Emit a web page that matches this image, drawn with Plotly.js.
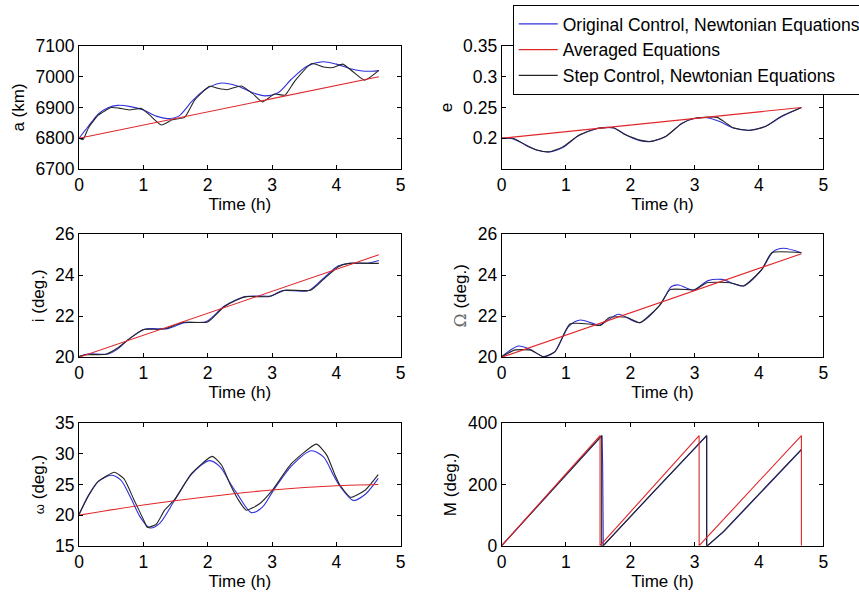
<!DOCTYPE html>
<html>
<head>
<meta charset="utf-8">
<script src="https://cdn.plot.ly/plotly-3.0.1.min.js"></script>
<style>html,body{margin:0;padding:0;background:#fff;}#chart{width:859px;height:593px;}</style>
</head>
<body>
<div id="chart"></div>
<script>
// ---------- data ----------
var seriesNames = ["Original Control, Newtonian Equations", "Averaged Equations", "Step Control, Newtonian Equations"];
var xTickVals = [0, 1, 2, 3, 4, 5];

// a (km)
var aOrigT = [0, 0.1, 0.2, 0.3, 0.45, 0.6, 0.8, 1.0, 1.2, 1.38, 1.55, 1.75, 1.95, 2.19, 2.45, 2.7, 2.89, 3.1, 3.3, 3.55, 3.79, 4.0, 4.2, 4.4, 4.55, 4.66];
var aOrigV = [6800, 6827, 6854, 6879, 6899, 6907, 6903, 6892, 6872, 6864, 6872, 6919, 6957, 6979, 6971, 6948, 6938, 6949, 6992, 7035, 7049, 7041, 7027, 7019, 7018, 7020];
var aStepT = [0, 0.06, 0.15, 0.3, 0.5, 0.62, 0.78, 0.97, 1.1, 1.28, 1.45, 1.64, 1.8, 2.03, 2.15, 2.3, 2.52, 2.7, 2.85, 3.04, 3.2, 3.35, 3.62, 3.8, 3.95, 4.1, 4.25, 4.44, 4.66];
var aStepV = [6800, 6795, 6835, 6875, 6900, 6898, 6892, 6897, 6875, 6843, 6860, 6868, 6925, 6969, 6963, 6958, 6970, 6945, 6918, 6944, 6940, 6985, 7043, 7032, 7030, 7041, 7018, 6989, 7021];
var aAvgT = [0, 4.66];
var aAvgV = [6800, 7000];

// e
var eOrigT = [0, 0.18, 0.35, 0.55, 0.74, 0.95, 1.2, 1.48, 1.74, 1.95, 2.15, 2.33, 2.55, 2.8, 2.98, 3.2, 3.4, 3.6, 3.86, 4.1, 4.35, 4.66];
var eOrigV = [0.2, 0.199, 0.1906, 0.1806, 0.1778, 0.185, 0.2044, 0.2156, 0.2167, 0.2044, 0.1961, 0.195, 0.2028, 0.2239, 0.2317, 0.2333, 0.2267, 0.2167, 0.2128, 0.2194, 0.235, 0.25];
var eStepT = [0, 0.18, 0.4, 0.55, 0.74, 0.95, 1.2, 1.48, 1.74, 1.9, 2.15, 2.33, 2.55, 2.8, 2.98, 3.35, 3.6, 3.86, 4.1, 4.35, 4.66];
var eStepV = [0.2, 0.2, 0.187, 0.181, 0.178, 0.186, 0.205, 0.216, 0.217, 0.207, 0.197, 0.195, 0.203, 0.224, 0.232, 0.234, 0.217, 0.213, 0.219, 0.236, 0.25];
var eAvgT = [0, 4.66];
var eAvgV = [0.2, 0.25];

// i (deg.)
var iOrigT = [0, 0.14, 0.45, 0.6, 0.76, 1.02, 1.38, 1.64, 1.98, 2.26, 2.58, 2.78, 2.99, 3.15, 3.56, 3.77, 4.03, 4.21, 4.49, 4.66];
var iOrigV = [20.03, 20.16, 20.16, 20.4, 20.85, 21.37, 21.4, 21.69, 21.74, 22.5, 22.96, 22.99, 22.99, 23.25, 23.25, 23.77, 24.46, 24.59, 24.59, 24.72];
var iStepT = [0, 0.1, 0.42, 0.6, 0.78, 1.0, 1.25, 1.4, 1.6, 2.0, 2.25, 2.45, 2.6, 2.95, 3.2, 3.6, 3.8, 4.03, 4.2, 4.66];
var iStepV = [20.03, 20.12, 20.15, 20.45, 20.9, 21.36, 21.36, 21.45, 21.7, 21.72, 22.45, 22.8, 22.96, 22.96, 23.27, 23.27, 23.8, 24.42, 24.58, 24.58];
var iAvgT = [0, 4.66];
var iAvgV = [20, 25];

// Omega (deg.)
var OOrigT = [0, 0.26, 0.44, 0.65, 0.83, 1.04, 1.22, 1.53, 1.81, 2.15, 2.46, 2.64, 2.75, 2.98, 3.21, 3.42, 3.76, 4.04, 4.22, 4.38, 4.66];
var OOrigV = [20.03, 20.55, 20.39, 20.03, 20.28, 21.5, 21.82, 21.58, 22.1, 21.69, 22.55, 23.45, 23.53, 23.28, 23.74, 23.8, 23.48, 24.26, 25.15, 25.32, 25.1];
var OStepT = [0, 0.2, 0.45, 0.65, 0.83, 1.06, 1.37, 1.53, 1.68, 1.94, 2.15, 2.46, 2.62, 2.9, 3.0, 3.19, 3.55, 3.76, 4.04, 4.2, 4.66];
var OStepV = [20.03, 20.35, 20.35, 20.03, 20.28, 21.62, 21.62, 21.55, 21.95, 21.95, 21.69, 22.55, 23.3, 23.3, 23.28, 23.64, 23.64, 23.48, 24.26, 25.1, 25.1];
var OAvgT = [0, 4.66];
var OAvgV = [20, 25.05];

// omega (deg.)
var wOrigT = [0, 0.15, 0.3, 0.5, 0.65, 0.8, 0.95, 1.1, 1.25, 1.49, 1.75, 2.03, 2.2, 2.35, 2.47, 2.68, 2.85, 3.02, 3.3, 3.61, 3.8, 3.95, 4.05, 4.26, 4.45, 4.65];
var wOrigV = [20.1, 23.3, 25.5, 26.5, 25.7, 22.9, 19.7, 17.9, 18.6, 22.5, 26.7, 28.9, 27.8, 25.2, 23.3, 20.4, 21.3, 24.0, 28.0, 30.5, 29.5, 26.6, 24.8, 22.4, 23.4, 26.0];
var wStepT = [0, 0.15, 0.3, 0.55, 0.7, 0.85, 1.0, 1.06, 1.2, 1.33, 1.49, 1.75, 2.07, 2.22, 2.35, 2.47, 2.6, 2.8, 3.0, 3.3, 3.69, 3.85, 3.98, 4.05, 4.22, 4.45, 4.65];
var wStepV = [20.1, 23.2, 25.5, 27.0, 25.9, 22.6, 19.3, 18.0, 18.5, 20.8, 22.6, 26.8, 29.6, 28.1, 25.0, 22.6, 20.8, 21.8, 24.0, 28.4, 31.6, 29.8, 26.5, 25.0, 22.9, 24.1, 26.6];
var wAvgT = [0, 1.0, 2.0, 3.0, 4.0, 4.65];
var wAvgV = [20, 21.65, 23.0, 24.1, 24.8, 25.0];

// M (deg.)
var MOrigT = [0, 1.56, 1.57, 1.58, 2.36, 3.19, 3.19, 3.2, 3.45, 3.9, 4.3, 4.66];
var MOrigV = [0, 360, 270, 0, 175, 360, 0, 0, 45, 145, 232, 313];
var MStepT = [0, 1.555, 1.555, 1.58, 2.36, 3.185, 3.185, 3.2, 3.45, 3.9, 4.3, 4.66];
var MStepV = [0, 360, 0, 0, 176, 360, 0, 0, 47, 147, 234, 315];
var MAvgT = [0, 1.53, 1.53, 3.07, 3.07, 4.66, 4.66];
var MAvgV = [0, 360, 0, 360, 0, 360, 0];

var panels = [
  {x: "x", y: "y",  orig: [aOrigT, aOrigV], step: [aStepT, aStepV], avg: [aAvgT, aAvgV], spline: true},
  {x: "x2", y: "y2", orig: [eOrigT, eOrigV], step: [eStepT, eStepV], avg: [eAvgT, eAvgV], spline: true},
  {x: "x3", y: "y3", orig: [iOrigT, iOrigV], step: [iStepT, iStepV], avg: [iAvgT, iAvgV], spline: true},
  {x: "x4", y: "y4", orig: [OOrigT, OOrigV], step: [OStepT, OStepV], avg: [OAvgT, OAvgV], spline: true},
  {x: "x5", y: "y5", orig: [wOrigT, wOrigV], step: [wStepT, wStepV], avg: [wAvgT, wAvgV], spline: true},
  {x: "x6", y: "y6", orig: [MOrigT, MOrigV], step: [MStepT, MStepV], avg: [MAvgT, MAvgV], spline: false}
];

var BLUE = "#3030dc", RED = "#e0262a", BLACK = "#262626";
var traces = [];
panels.forEach(function(p, k) {
  var shp = p.spline ? "spline" : "linear";
  traces.push({x: p.orig[0], y: p.orig[1], xaxis: p.x, yaxis: p.y, type: "scatter", mode: "lines",
    name: seriesNames[0], legendrank: 1, showlegend: k === 0,
    line: {color: BLUE, width: 1.1, shape: shp, smoothing: 0.8}});
  traces.push({x: p.step[0], y: p.step[1], xaxis: p.x, yaxis: p.y, type: "scatter", mode: "lines",
    name: seriesNames[2], legendrank: 3, showlegend: k === 0,
    line: {color: BLACK, width: 1.1, shape: shp, smoothing: 0.5}});
  traces.push({x: p.avg[0], y: p.avg[1], xaxis: p.x, yaxis: p.y, type: "scatter", mode: "lines",
    name: seriesNames[1], legendrank: 2, showlegend: k === 0,
    line: {color: RED, width: 1.1, shape: shp, smoothing: 0.8}});
});

var FONT = "Liberation Sans, Arial, Helvetica, sans-serif";
var colDom = [[0.0920, 0.4665], [0.5840, 0.9584]];
var rowDom = [[0.7150, 0.9224], [0.3975, 0.6049], [0.0798, 0.2862]];

function xAx(col, anchor) {
  return {domain: colDom[col], anchor: anchor, range: [0, 5], tickvals: xTickVals,
    showline: true, mirror: "ticks", linecolor: "#000", linewidth: 1,
    ticks: "inside", ticklen: 4, tickcolor: "#000", showgrid: false, zeroline: false,
    tickfont: {size: 17.5, color: "#000", family: FONT},
    title: {text: "Time (h)", font: {size: 17, color: "#000", family: FONT}, standoff: 2}};
}
function yAx(row, anchor, range, tickvals, ticktext, title) {
  var o = {domain: rowDom[row], anchor: anchor, range: range, tickvals: tickvals,
    showline: true, mirror: "ticks", linecolor: "#000", linewidth: 1,
    ticks: "inside", ticklen: 4, tickcolor: "#000", showgrid: false, zeroline: false,
    tickfont: {size: 17.5, color: "#000", family: FONT},
    title: {text: title, font: {size: 17, color: "#000", family: FONT}, standoff: 6}};
  if (ticktext) o.ticktext = ticktext;
  return o;
}

var layout = {
  width: 859, height: 593,
  margin: {l: 0, r: 0, t: 0, b: 0, autoexpand: false},
  paper_bgcolor: "#fff", plot_bgcolor: "#fff",
  font: {family: FONT, color: "#000", size: 17},
  showlegend: true,
  legend: {x: 0.5969, y: 0.9915, xanchor: "left", yanchor: "top",
    bgcolor: "#fff", bordercolor: "#000", borderwidth: 1, itemwidth: 39,
    font: {size: 17.5, color: "#000", family: FONT}, tracegroupgap: 0},
  xaxis: xAx(0, "y"), xaxis2: xAx(1, "y2"),
  xaxis3: xAx(0, "y3"), xaxis4: xAx(1, "y4"),
  xaxis5: xAx(0, "y5"), xaxis6: xAx(1, "y6"),
  yaxis: yAx(0, "x", [6700, 7100], [6700, 6800, 6900, 7000, 7100], null, "a (km)"),
  yaxis2: yAx(0, "x2", [0.15, 0.35], [0.2, 0.25, 0.3, 0.35], ["0.2", "0.25", "0.3", "0.35"], "e"),
  yaxis3: yAx(1, "x3", [20, 26], [20, 22, 24, 26], null, "i (deg.)"),
  yaxis4: yAx(1, "x4", [20, 26], [20, 22, 24, 26], null, "<span style='color:#666;font-family:DejaVu Serif'>Ω</span> (deg.)"),
  yaxis5: yAx(2, "x5", [15, 35], [15, 20, 25, 30, 35], null, "<span style='font-size:13px'>ω</span> (deg.)"),
  yaxis6: yAx(2, "x6", [0, 400], [0, 200, 400], null, "M (deg.)")
};

Plotly.newPlot("chart", traces, layout, {staticPlot: true, displayModeBar: false});
</script>
</body>
</html>
